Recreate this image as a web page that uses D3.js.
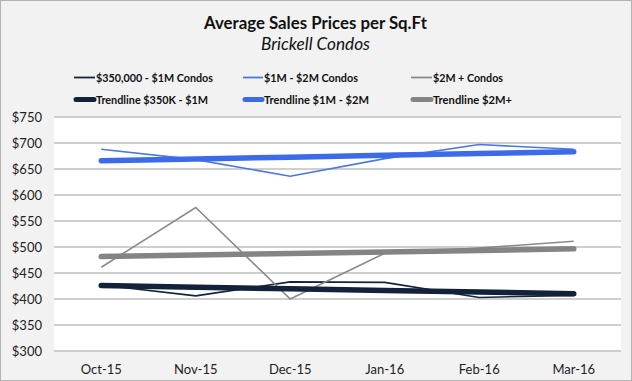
<!DOCTYPE html>
<html><head><meta charset="utf-8">
<script src="https://cdn.jsdelivr.net/npm/d3@7"></script>
<style>
html,body{margin:0;padding:0;background:#f2f2f2;}
svg{display:block;}
text{font-family:Lato, "Open Sans", sans-serif;}
</style></head>
<body>
<script>
const categories = ["Oct-15","Nov-15","Dec-15","Jan-16","Feb-16","Mar-16"];
const seriesNames = ["$350,000 - $1M Condos","$1M - $2M Condos","$2M + Condos"];
const trendNames = ["Trendline $350K - $1M","Trendline $1M - $2M","Trendline $2M+"];
const low = [427, 406, 433, 432, 403, 407];
const mid = [688, 668, 636, 670, 697, 688];
const high = [461, 576, 400, 488, 498, 511];
const yTicks = [300,350,400,450,500,550,600,650,700,750];
const colors = ["#14243c","#4a78e0","#8a8a8a"];
const trendColors = ["#12223a","#3d6ae8","#848484"];

const W = 632, H = 381;
const svg = d3.select("body").append("svg").attr("width", W).attr("height", H);
svg.append("rect").attr("x",0.5).attr("y",0.5).attr("width",W-1).attr("height",H-1)
  .attr("fill","#f2f2f2").attr("stroke","#b3b3b3");

const m = {left:54, right:621, top:117, bottom:351};
const x = d3.scaleBand().domain(categories).range([m.left, m.right]);
const y = d3.scaleLinear().domain([300,750]).range([m.bottom, m.top]);

svg.append("rect").attr("x",m.left).attr("y",m.top).attr("width",m.right-m.left).attr("height",m.bottom-m.top).attr("fill","#ffffff");

svg.append("g").selectAll("line").data(yTicks).join("line")
  .attr("x1",m.left).attr("x2",m.right).attr("y1",d=>y(d)).attr("y2",d=>y(d))
  .attr("stroke","#bfbfbf").attr("stroke-width",1.5);

const yAxis = d3.axisLeft(y).tickValues(yTicks).tickFormat(d=>"$"+d).tickSize(0).tickPadding(12);
const ya = svg.append("g").attr("transform",`translate(${m.left},0)`).call(yAxis);
ya.select(".domain").remove();
ya.selectAll("text").attr("font-size",13).attr("fill","#222").style("font-family","Lato, sans-serif");

const xAxis = d3.axisBottom(x).tickSize(0).tickPadding(14);
const xa = svg.append("g").attr("transform",`translate(0,${m.bottom})`).call(xAxis);
xa.select(".domain").remove();
xa.selectAll("text").attr("font-size",13).attr("fill","#222").style("font-family","Lato, sans-serif");

const cx = c => x(c) + x.bandwidth()/2;
const data = [low, mid, high];

function regression(vals){
  const xs = vals.map((_,i)=>i);
  const mx = d3.mean(xs), my = d3.mean(vals);
  const sxy = d3.sum(xs.map((xi,i)=>(xi-mx)*(vals[i]-my)));
  const sxx = d3.sum(xs.map(xi=>(xi-mx)*(xi-mx)));
  const b = sxy/sxx, a = my - b*mx;
  return xs.map(xi => a + b*xi);
}

const line = d3.line().x((d,i)=>cx(categories[i])).y(d=>y(d));

data.forEach((vals,k)=>{
  svg.append("path").attr("d",line(vals)).attr("fill","none")
    .attr("stroke",colors[k]).attr("stroke-width",1.6).attr("stroke-linejoin","miter");
});
data.forEach((vals,k)=>{
  const t = regression(vals);
  svg.append("path").attr("d",line(t)).attr("fill","none")
    .attr("stroke",trendColors[k]).attr("stroke-width",5.5).attr("stroke-linecap","round");
});

// title
svg.append("text").attr("x",204).attr("y",28.5).attr("textLength",223).attr("lengthAdjust","spacingAndGlyphs")
  .attr("font-size",16.5).attr("font-weight","bold").attr("fill","#111").text("Average Sales Prices per Sq.Ft");
svg.append("text").attr("x",261).attr("y",50).attr("textLength",109).attr("lengthAdjust","spacingAndGlyphs")
  .attr("font-size",16.5).attr("font-style","italic").attr("fill","#111").text("Brickell Condos");

// legend
const legX = [74, 243, 411];
const legTX = [96, 264, 433];
const legY = [77.5, 99.5];
const legW1 = [117, 94, 70];
const legW2 = [112, 105, 79];
seriesNames.forEach((nm,k)=>{
  const g = svg.append("g");
  g.append("line").attr("x1",legX[k]).attr("x2",legTX[k]-1).attr("y1",legY[0]).attr("y2",legY[0])
    .attr("stroke",colors[k]).attr("stroke-width",1.8);
  g.append("text").attr("x",legTX[k]).attr("y",legY[0]+4).attr("textLength",legW1[k]).attr("lengthAdjust","spacingAndGlyphs")
    .attr("font-size",12).attr("font-weight","bold").attr("fill","#111").text(nm);
});
trendNames.forEach((nm,k)=>{
  const g = svg.append("g");
  g.append("line").attr("x1",legX[k]+2).attr("x2",legTX[k]-2).attr("y1",legY[1]).attr("y2",legY[1])
    .attr("stroke",trendColors[k]).attr("stroke-width",5).attr("stroke-linecap","round");
  g.append("text").attr("x",legTX[k]).attr("y",legY[1]+4).attr("textLength",legW2[k]).attr("lengthAdjust","spacingAndGlyphs")
    .attr("font-size",12).attr("font-weight","bold").attr("fill","#111").text(nm);
});
</script>
</body></html>
